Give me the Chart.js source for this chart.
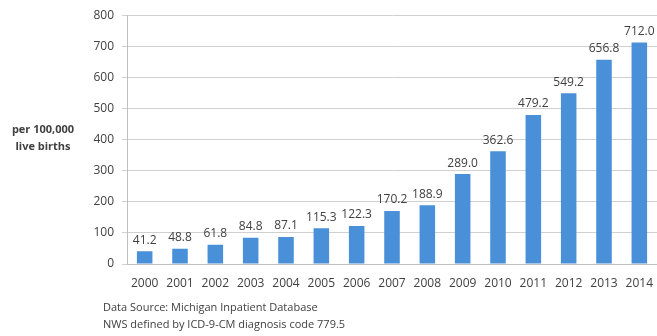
<!DOCTYPE html>
<html>
<head>
<meta charset="utf-8">
<script src="https://cdn.jsdelivr.net/npm/chart.js@4/dist/chart.umd.min.js"></script>
<style>
  html, body { margin: 0; padding: 0; background: #fff; }
  #wrap { width: 657px; height: 336px; position: relative; }
</style>
</head>
<body>
<div id="wrap"><canvas id="c" width="657" height="336"></canvas></div>
<script>
// NWS rate per 100,000 live births, Michigan, by year
const years = ['2000','2001','2002','2003','2004','2005','2006','2007','2008','2009','2010','2011','2012','2013','2014'];
const rates = [41.2, 48.8, 61.8, 84.8, 87.1, 115.3, 122.3, 170.2, 188.9, 289.0, 362.6, 479.2, 549.2, 656.8, 712.0];
const yTicks = { min: 0, max: 800, step: 100 };
const yTitleLines = ['per 100,000', 'live births'];
const footerLines = ['Data Source: Michigan Inpatient Database', 'NWS defined by ICD-9-CM diagnosis code 779.5'];

const FONT = "'Open Sans', 'Liberation Sans', sans-serif";

// value labels above each bar, plus the horizontal y title and source notes
const annotate = {
  id: 'annotate',
  afterDatasetsDraw(chart) {
    const ctx = chart.ctx;
    const meta = chart.getDatasetMeta(0);
    ctx.save();
    ctx.font = '12px ' + FONT;
    ctx.fillStyle = '#404040';
    ctx.textAlign = 'center';
    ctx.textBaseline = 'bottom';
    meta.data.forEach((bar, i) => {
      ctx.fillText(rates[i].toFixed(1), bar.x, bar.y - 5);
    });
    ctx.restore();
  },
  afterDraw(chart) {
    const ctx = chart.ctx;
    ctx.save();
    ctx.fillStyle = '#404040';
    ctx.textAlign = 'center';
    ctx.textBaseline = 'middle';
    ctx.font = 'bold 11px ' + FONT;
    ctx.fillText(yTitleLines[0], 43, 130);
    ctx.fillText(yTitleLines[1], 43, 147);
    ctx.textAlign = 'left';
    ctx.font = '11px ' + FONT;
    ctx.fillText(footerLines[0], 103, 308);
    ctx.fillText(footerLines[1], 103, 325);
    ctx.restore();
  }
};

new Chart(document.getElementById('c'), {
  type: 'bar',
  data: {
    labels: years,
    datasets: [{
      data: rates,
      backgroundColor: '#4a90d9',
      borderWidth: 0,
      categoryPercentage: 1,
      barPercentage: 0.44
    }]
  },
  options: {
    responsive: false,
    animation: false,
    events: [],
    layout: { padding: { top: 3, right: 0, bottom: 44, left: 0 } },
    plugins: { legend: { display: false }, tooltip: { enabled: false }, title: { display: false } },
    scales: {
      x: {
        grid: { display: false, drawTicks: true, tickLength: 12 },
        border: { display: true, color: '#bfbfbf', width: 1 },
        ticks: { color: '#404040', font: { size: 12, family: FONT }, padding: 0, maxRotation: 0, autoSkip: false },
        afterFit(scale) { scale.height = 28; }
      },
      y: {
        min: yTicks.min,
        max: yTicks.max,
        ticks: { stepSize: yTicks.step, color: '#404040', font: { size: 12, family: FONT }, padding: 8 },
        grid: { color: '#d0d0d0', lineWidth: 1, drawTicks: true, tickLength: 5 },
        border: { display: true, color: '#bfbfbf', width: 1 },
        afterFit(scale) { scale.width = 127; }
      }
    }
  },
  plugins: [annotate]
});
</script>
</body>
</html>
